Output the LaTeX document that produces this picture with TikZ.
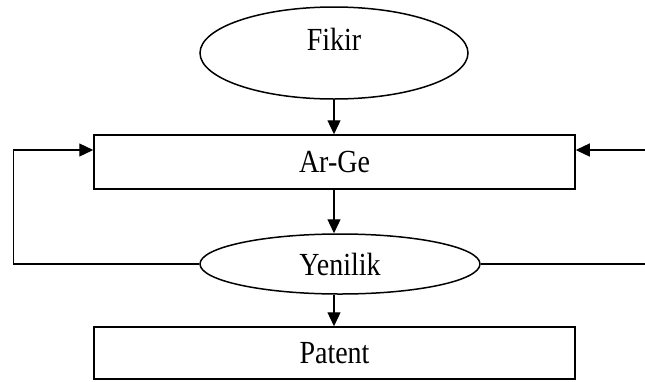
\documentclass[tikz,border=0pt]{standalone}
\usepackage{fontspec}
\setmainfont{Liberation Serif}
\usetikzlibrary{arrows.meta,shapes.geometric}
% narrow, tall lettering of the stage names
\newcommand{\stagetext}[1]{\scalebox{1}[1.15]{#1}}
\begin{document}
\begin{tikzpicture}[x=1pt,y=-1pt,
  label font/.style={font=\fontsize{28}{30}\selectfont},
  box/.style={draw,line width=1.5pt,minimum width=481pt,inner sep=0pt,label font},
  oval/.style={draw,ellipse,line width=1.5pt,inner sep=0pt,label font},
  link/.style={line width=1.3pt,-{Triangle[length=14pt,width=13pt]}}]
  \useasboundingbox (0,0) rectangle (645,381);

  % stages of the process
  \node[oval,minimum width=268pt,minimum height=92pt,text height=22pt,text depth=28pt]
    (fikir) at (334,53) {\stagetext{Fikir}};
  \node[box,minimum height=54pt] (arge) at (334.5,162) {\stagetext{Ar-Ge}};
  \node[oval,minimum width=280pt,minimum height=60pt] (yenilik) at (340,264) {\stagetext{Yenilik}};
  \node[box,minimum height=52pt] (patent) at (334.5,353) {\stagetext{Patent}};

  % helper points for the main axis and the feedback loops
  \coordinate (axis) at (334,0);
  \coordinate (lx) at (13.6,150);
  \coordinate (rx) at (646,150);

  % main flow
  \draw[link] (fikir.south -| axis) -- (arge.north -| axis);
  \draw[link] (arge.south -| axis) -- (yenilik.north -| axis);
  \draw[link] (yenilik.south -| axis) -- (patent.north -| axis);

  % feedback from Yenilik back to Ar-Ge
  \draw[link] (yenilik.west) -- (lx |- yenilik.west) -- (lx) -- (arge.west |- lx);
  \draw[link] (yenilik.east) -- (rx |- yenilik.east) -- (rx) -- (arge.east |- lx);
\end{tikzpicture}
\end{document}
